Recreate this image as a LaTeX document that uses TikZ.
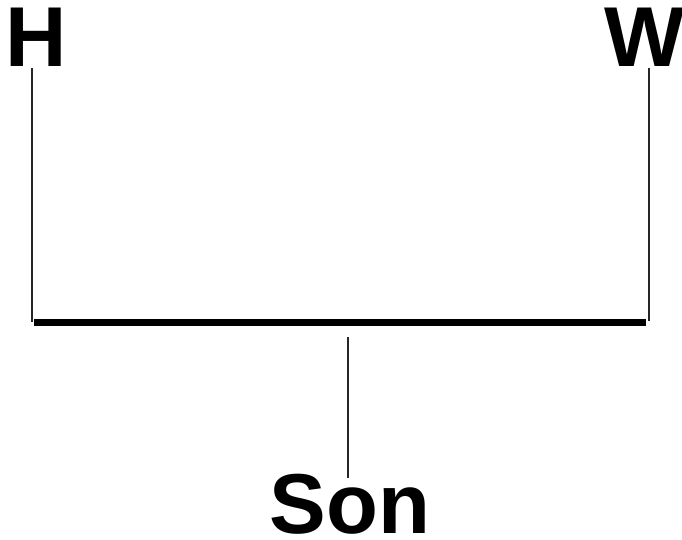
\documentclass[tikz,border=0pt]{standalone}
\usepackage{fontspec}
\setmainfont{Liberation Sans}
\begin{document}
\begin{tikzpicture}[x=1pt,y=-1pt,
  lbl/.style={font=\fontsize{85}{90}\selectfont\bfseries, inner sep=0pt, anchor=base},
  thin line/.style={line width=1.5pt, black!85},
  bar/.style={line width=7pt}]
\useasboundingbox (0,0) rectangle (682,540);
\node[lbl] (H) at (36.5,67) {H};
\node[lbl] (W) at (645,67) {W};
\node[lbl] (S) at (350,533) {Son};
\coordinate (barL) at (34,322);
\coordinate (barR) at (646,322);
\coordinate (hTop) at (32,68);
\coordinate (hBot) at (32,322);
\coordinate (wTop) at (649,68);
\coordinate (wBot) at (649,321);
\coordinate (sTop) at (348,337);
\coordinate (sBot) at (348,478);
\draw[thin line] (hTop) -- (hBot);
\draw[thin line] (wTop) -- (wBot);
\draw[bar] (barL) -- (barR);
\draw[thin line] (sTop) -- (sBot);
\end{tikzpicture}
\end{document}
